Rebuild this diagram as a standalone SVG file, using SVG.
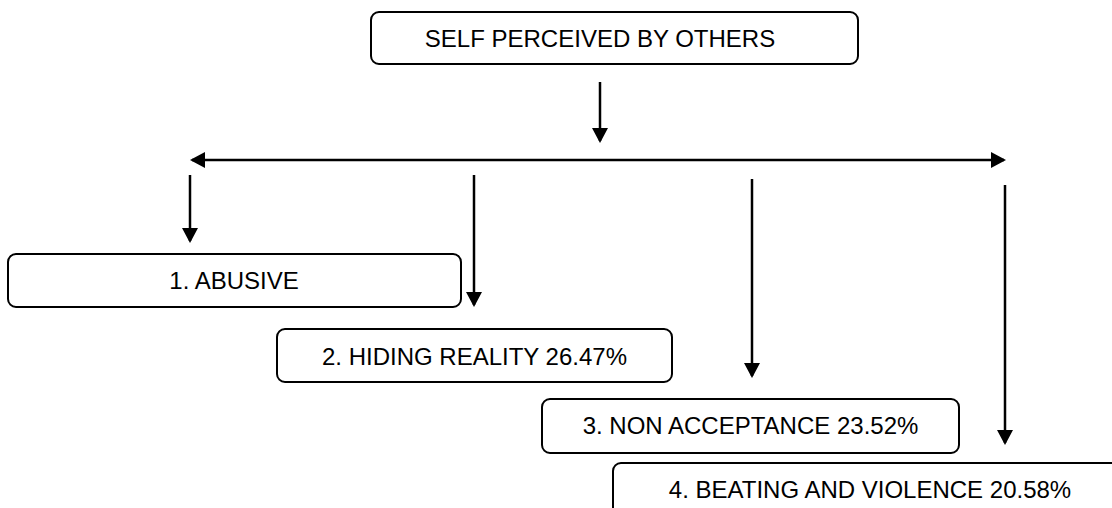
<svg xmlns="http://www.w3.org/2000/svg" width="1112" height="508" viewBox="0 0 1112 508">
  <style>
    .box { fill: #ffffff; stroke: #000000; stroke-width: 2; }
    .lbl { font-family: "Liberation Sans", Arial, sans-serif; font-size: 24px; fill: #000000; text-anchor: middle; }
    .conn { stroke: #000000; stroke-width: 2.5; fill: none; }
  </style>
  <defs>
    <marker id="arr" markerUnits="userSpaceOnUse" markerWidth="16" markerHeight="16" refX="13" refY="8" orient="auto-start-reverse">
      <path d="M0,0 L15,8 L0,16 z" fill="#000000"/>
    </marker>
  </defs>
  <rect width="1112" height="508" fill="#ffffff"/>

  <g id="connectors">
    <line class="conn" x1="600" y1="82" x2="600" y2="141" marker-end="url(#arr)"/>
    <line class="conn" x1="192" y1="160" x2="1004" y2="160" marker-start="url(#arr)" marker-end="url(#arr)"/>
    <line class="conn" x1="190" y1="175" x2="190" y2="241" marker-end="url(#arr)"/>
    <line class="conn" x1="474" y1="175" x2="474" y2="305" marker-end="url(#arr)"/>
    <line class="conn" x1="752" y1="179" x2="752" y2="376" marker-end="url(#arr)"/>
    <line class="conn" x1="1005" y1="185" x2="1005" y2="443" marker-end="url(#arr)"/>
  </g>

  <g id="node-self">
    <rect class="box" x="371" y="12" width="487" height="52" rx="8"/>
    <text class="lbl" x="600" y="47">SELF PERCEIVED BY OTHERS</text>
  </g>
  <g id="node-abusive">
    <rect class="box" x="8" y="254" width="453" height="53" rx="8"/>
    <text class="lbl" x="234" y="289">1. ABUSIVE</text>
  </g>
  <g id="node-hiding">
    <rect class="box" x="277" y="329" width="395" height="53" rx="8"/>
    <text class="lbl" x="474.5" y="365">2. HIDING REALITY 26.47%</text>
  </g>
  <g id="node-nonacceptance">
    <rect class="box" x="542" y="399" width="417" height="54" rx="8"/>
    <text class="lbl" x="750.5" y="434">3. NON ACCEPTANCE 23.52%</text>
  </g>
  <g id="node-beating">
    <rect class="box" x="613" y="463" width="514" height="54" rx="8"/>
    <text class="lbl" x="870" y="498">4. BEATING AND VIOLENCE 20.58%</text>
  </g>
</svg>
